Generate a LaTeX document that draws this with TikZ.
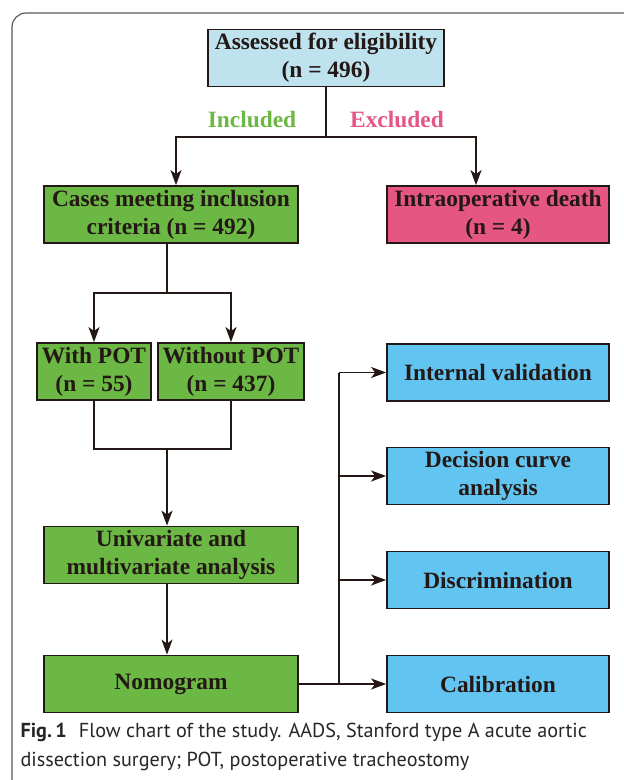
\documentclass[tikz,border=0pt]{standalone}
\usepackage{fontspec}
\setmainfont{Liberation Serif}
\newfontfamily\capfont{PT Sans}
\usetikzlibrary{arrows.meta}

\definecolor{boxblue}{RGB}{190,227,238}
\definecolor{boxgreen}{RGB}{108,184,68}
\definecolor{boxpink}{RGB}{230,86,132}
\definecolor{boxcyan}{RGB}{98,196,240}
\definecolor{linedark}{RGB}{35,24,21}

\tikzset{
    flowbox/.style={draw=linedark, line width=1.8pt, minimum height=57pt,
        inner sep=0pt, align=center, font=\fontsize{23.4}{28}\selectfont\bfseries,
        text=linedark},
    flowline/.style={draw=linedark, line width=1.8pt},
    flowarrow/.style={flowline, -{Stealth[length=15pt,width=11pt,inset=4pt]}},
}

\begin{document}
\begin{tikzpicture}[x=1pt,y=-1pt]
    \useasboundingbox (0,0) rectangle (624,780);
    \clip (0,0) rectangle (624,780);
    \draw[gray!70!black, line width=1.2pt, rounded corners=14pt] (12,13) rectangle (660,800);

    \node[flowbox, fill=boxblue, minimum width=236pt] (assess) at (326,58) {Assessed for eligibility\\(n = 496)};
    \node[flowbox, fill=boxgreen, minimum width=254pt] (cases) at (171,214.5) {Cases meeting inclusion\\criteria (n = 492)};
    \node[flowbox, fill=boxpink, minimum width=222pt] (death) at (498,214.5) {Intraoperative death\\(n = 4)};
    \node[flowbox, fill=boxgreen, minimum width=114pt] (with) at (94,371.5) {With POT\\(n = 55)};
    \node[flowbox, fill=boxgreen, minimum width=146pt] (without) at (231,371.5) {Without POT\\(n = 437)};
    \node[flowbox, fill=boxgreen, minimum width=254pt] (univ) at (171,555) {Univariate and\\multivariate analysis};
    \node[flowbox, fill=boxgreen, minimum width=254pt] (nomo) at (171,684) {Nomogram};

    \node[flowbox, fill=boxcyan, minimum width=222pt] (internal) at (498,372.5) {Internal validation};
    \node[flowbox, fill=boxcyan, minimum width=222pt] (decision) at (498,476) {Decision curve\\analysis};
    \node[flowbox, fill=boxcyan, minimum width=222pt] (discr) at (498,580) {Discrimination};
    \node[flowbox, fill=boxcyan, minimum width=222pt] (calib) at (498,684) {Calibration};

    \node[font=\fontsize{23.4}{28}\selectfont\bfseries, text=boxgreen] (incl) at (252,120) {Included};
    \node[font=\fontsize{23.4}{28}\selectfont\bfseries, text=boxpink] (excl) at (397,120) {Excluded};

    % split after assessment
    \coordinate (split) at (assess.south |- 0,137);
    \draw[flowline] (assess.south) -- (split);
    \draw[flowarrow] (split) -| (176,137) -- (cases.north -| 176,0);
    \draw[flowarrow] (split) -| (476,137) -- (death.north -| 476,0);

    % groups
    \coordinate (fork) at (167,293);
    \draw[flowline] (cases.south -| fork) -- (fork);
    \draw[flowarrow] (fork) -| (with.north);
    \draw[flowarrow] (fork) -| (without.north);

    \coordinate (join) at (167,449);
    \draw[flowline] (with.south) |- (join) -| (without.south);
    \draw[flowarrow] (join) -- (univ.north -| join);
    \draw[flowarrow] (univ.south -| join) -- (nomo.north -| join);

    % validation branches
    \coordinate (trunk) at (339,684);
    \draw[flowline] (nomo.east) -- (trunk) -- (trunk |- internal.west);
    \draw[flowarrow] (trunk |- internal.west) -- (internal.west);
    \draw[flowarrow] (trunk |- decision.west) -- (decision.west);
    \draw[flowarrow] (trunk |- discr.west) -- (discr.west);
    \draw[flowarrow] (trunk) -- (calib.west);

    \node[anchor=west, align=left, font=\capfont\fontsize{20.2}{29}\selectfont, text=black!85] (caption) at (17,747)
        {\textbf{Fig.\,1}\hspace{0.6em}Flow chart of the study. AADS, Stanford type A acute aortic\\dissection surgery; POT, postoperative tracheostomy};
\end{tikzpicture}
\end{document}
